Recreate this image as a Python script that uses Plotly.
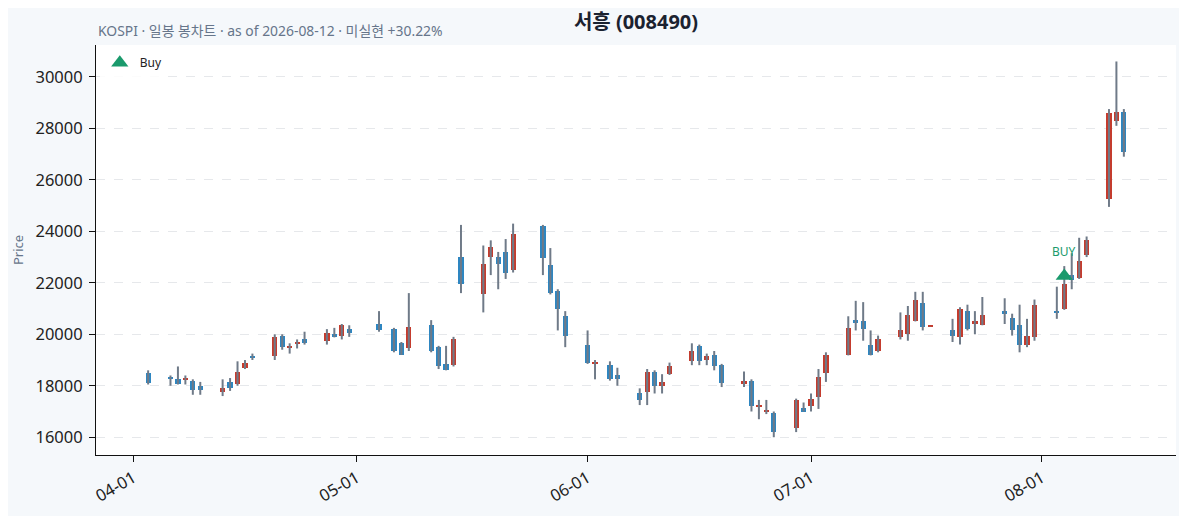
import pandas as pd
import plotly.graph_objects as go

# daily candles, 서흥 (008490)
dates = [
    "2026-04-03", "2026-04-06", "2026-04-07", "2026-04-08", "2026-04-09", "2026-04-10",
    "2026-04-13", "2026-04-14", "2026-04-15", "2026-04-16", "2026-04-17",
    "2026-04-20", "2026-04-21", "2026-04-22", "2026-04-23", "2026-04-24",
    "2026-04-27", "2026-04-28", "2026-04-29", "2026-04-30",
    "2026-05-04", "2026-05-06", "2026-05-07", "2026-05-08",
    "2026-05-11", "2026-05-12", "2026-05-13", "2026-05-14", "2026-05-15",
    "2026-05-18", "2026-05-19", "2026-05-20", "2026-05-21", "2026-05-22",
    "2026-05-26", "2026-05-27", "2026-05-28", "2026-05-29",
    "2026-06-01", "2026-06-02", "2026-06-04", "2026-06-05",
    "2026-06-08", "2026-06-09", "2026-06-10", "2026-06-11", "2026-06-12",
    "2026-06-15", "2026-06-16", "2026-06-17", "2026-06-18", "2026-06-19",
    "2026-06-22", "2026-06-23", "2026-06-24", "2026-06-25", "2026-06-26",
    "2026-06-29", "2026-06-30", "2026-07-01", "2026-07-02", "2026-07-03",
    "2026-07-06", "2026-07-07", "2026-07-08", "2026-07-09", "2026-07-10",
    "2026-07-13", "2026-07-14", "2026-07-15", "2026-07-16", "2026-07-17",
    "2026-07-20", "2026-07-21", "2026-07-22", "2026-07-23", "2026-07-24",
    "2026-07-27", "2026-07-28", "2026-07-29", "2026-07-30", "2026-07-31",
    "2026-08-03", "2026-08-04", "2026-08-05", "2026-08-06", "2026-08-07",
    "2026-08-10", "2026-08-11", "2026-08-12",
]
opens = [
    18500, 18350, 18250, 18230, 18200, 18000,
    17750, 18150, 18050, 18700, 19150,
    19150, 19950, 19450, 19650, 19800,
    19750, 20000, 19950, 20200,
    20400, 20200, 19650, 19450,
    20350, 19500, 18850, 18800, 23000,
    21550, 23000, 23000, 23200, 22500,
    24200, 22700, 21700, 20700,
    19600, 18850, 18800, 18400,
    17700, 17750, 18550, 18000, 18450,
    18950, 19550, 19000, 19200, 18800,
    18050, 18200, 17200, 17000, 16950,
    16350, 17150, 17200, 17550, 18500,
    19200, 20550, 20500, 19600, 19350,
    19900, 20000, 20500, 21200, 20300,
    20150, 19900, 20900, 20400, 20350,
    20900, 20650, 20350, 19600, 19900,
    20900, 21000, 22300, 22200, 23100,
    25250, 28300, 28650,
]
highs = [
    18600, 18400, 18750, 18400, 18250, 18150,
    18250, 18300, 18950, 19000, 19250,
    20000, 20000, 19650, 19800, 20100,
    20200, 20250, 20400, 20350,
    20900, 20250, 19700, 21600,
    20550, 19550, 19550, 19900, 24250,
    23450, 23650, 23200, 23700, 24300,
    24250, 23350, 21750, 20900,
    20150, 19000, 18950, 18700,
    17900, 18650, 18600, 18450, 18900,
    19650, 19600, 19250, 19350, 18850,
    18550, 18250, 17450, 17450, 17000,
    17500, 17350, 17700, 18650, 19300,
    20700, 21300, 21250, 20150, 19950,
    20850, 21100, 21650, 21650, 20310,
    20600, 21050, 21150, 20900, 21450,
    21400, 20800, 21150, 20600, 21350,
    21850, 22650, 23150, 23750, 23800,
    28750, 30600, 28750,
]
lows = [
    18050, 18000, 18050, 18050, 17650, 17650,
    17600, 17800, 18000, 18650, 19000,
    19000, 19400, 19250, 19450, 19600,
    19600, 19880, 19800, 19900,
    20100, 19300, 19200, 19350,
    19300, 18650, 18600, 18750, 21600,
    20850, 22300, 21750, 22150, 22400,
    22300, 21550, 20150, 19500,
    18850, 18250, 18200, 18000,
    17250, 17250, 17700, 17700, 18420,
    18800, 18800, 18800, 18600, 17950,
    17950, 17000, 16700, 16900, 16000,
    16200, 17000, 17000, 17100, 18150,
    19180, 20150, 19750, 19180, 19300,
    19800, 19750, 20500, 20150, 20300,
    19700, 19600, 20150, 20000, 20350,
    20400, 19950, 19300, 19500, 19750,
    20600, 20950, 21750, 22150, 23000,
    24950, 28100, 26900,
]
closes = [
    18100, 18250, 18050, 18250, 17850, 17850,
    17900, 17900, 18550, 18900, 19100,
    19900, 19500, 19550, 19700, 19650,
    20050, 19900, 20350, 20050,
    20150, 19350, 19200, 20300,
    19350, 18750, 18600, 19800, 21950,
    22750, 23400, 22750, 22400, 23900,
    22950, 21600, 21000, 19950,
    18900, 18870, 18250, 18270,
    17450, 18550, 18000, 18150, 18750,
    19350, 18950, 19150, 18750, 18100,
    18200, 17200, 17250, 17020, 16200,
    17450, 17000, 17500, 18350, 19200,
    20250, 20450, 20200, 19200, 19800,
    20150, 20750, 21350, 20300, 20310,
    19950, 21000, 20200, 20500, 20750,
    20800, 20150, 19600, 19950, 21150,
    20850, 21950, 22100, 22850, 23650,
    28600, 28650, 27100,
]

buy_dates = ["2026-08-04"]
buy_marker_price = [22260]
buy_labels = ["BUY"]

UP = "#c43c2e"
DOWN = "#2e86c1"
WICK = "#6f7a88"
BUY = "#1a9a6c"
FONT = "Noto Sans, Noto Sans CJK KR"

df = pd.DataFrame({"Open": opens, "High": highs, "Low": lows, "Close": closes},
                  index=pd.to_datetime(dates))

# wicks as one broken line
wx, wy = [], []
for d, row in df.iterrows():
    wx += [d, d, None]
    wy += [row["Low"], row["High"], None]

body_base = df[["Open", "Close"]].min(axis=1)
body_len = (df["Close"] - df["Open"]).abs().clip(lower=40)
body_col = [UP if c >= o else DOWN for o, c in zip(df["Open"], df["Close"])]

fig = go.Figure()
fig.add_trace(go.Scatter(x=wx, y=wy, mode="lines", line=dict(color=WICK, width=2),
                         showlegend=False, hoverinfo="skip"))
fig.add_trace(go.Bar(x=df.index, y=body_len, base=body_base, width=0.7 * 86400000,
                     marker=dict(color=body_col, line=dict(width=0)),
                     showlegend=False))
fig.add_trace(go.Scatter(x=pd.to_datetime(buy_dates), y=buy_marker_price, mode="markers",
                         name="Buy",
                         marker=dict(symbol="triangle-up", size=15, color=BUY)))
for d, p, t in zip(buy_dates, buy_marker_price, buy_labels):
    fig.add_annotation(x=d, y=p, text=t, showarrow=False, yshift=25,
                       font=dict(family=FONT, size=12, color=BUY))

fig.add_annotation(xref="paper", yref="paper", x=0, y=1, xanchor="left", yanchor="bottom",
                   yshift=3, showarrow=False,
                   text="KOSPI · 일봉 봉차트 · as of 2026-08-12 · 미실현 +30.22%",
                   font=dict(family=FONT, size=13.9, color="#66758a"))

fig.update_layout(
    width=1187, height=516,
    margin=dict(l=88, r=19, t=37, b=69, autoexpand=False),
    paper_bgcolor="#f5f8fb", plot_bgcolor="#ffffff",
    font=dict(family=FONT, size=16.5, color="#222222"),
    title=dict(text="<b>서흥 (008490)</b>", x=0.5, xref="paper", xanchor="center",
               y=0.972, yanchor="middle",
               font=dict(family=FONT, size=20, color="#1b2230")),
    barmode="overlay", bargap=0,
    hovermode=False,
    legend=dict(x=0.0035, y=0.992, xanchor="left", yanchor="top",
                bgcolor="rgba(255,255,255,0.85)", font=dict(family=FONT, size=12, color="#222222")),
)
fig.update_xaxes(type="date", range=["2026-03-27", "2026-08-19"],
                 tickformat="%m-%d", dtick="M1", tick0="2026-04-01", tickangle=-30,
                 showgrid=False, showline=True, linecolor="#111111", linewidth=1,
                 ticks="outside", ticklen=6, tickcolor="#111111", zeroline=False)
fig.update_yaxes(range=[15310, 31240], dtick=2000, tick0=16000, tickformat="d",
                 showgrid=True, gridcolor="#e6e8eb", griddash="dash", gridwidth=1,
                 showline=True, linecolor="#111111", linewidth=1,
                 ticks="outside", ticklen=6, tickcolor="#111111", zeroline=False,
                 ticklabelstandoff=3,
                 title=dict(text="Price", standoff=8, font=dict(family=FONT, size=13, color="#66758a")))

fig.write_html("out.html")
